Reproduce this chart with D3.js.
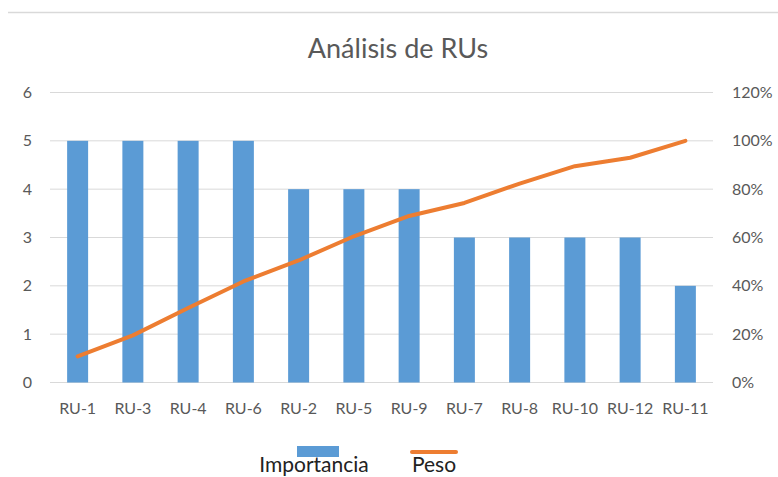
<html lang="es">
<head>
    <meta charset="UTF-8">
    <title>Análisis de RUs</title>
    <style>
        body { margin: 0; background: #ffffff; }
        svg { display: block; font-family: Lato, "Open Sans", sans-serif; }
    </style>
</head>
<body>
<div class="chart"></div>

<script src="https://d3js.org/d3.v7.min.js"></script>
<script>
    const categories = ['RU-1', 'RU-3', 'RU-4', 'RU-6', 'RU-2', 'RU-5', 'RU-9', 'RU-7', 'RU-8', 'RU-10', 'RU-12', 'RU-11']
    const importancia = [5, 5, 5, 5, 4, 4, 4, 3, 3, 3, 3, 2]
    const peso = [10.8, 19.5, 30.8, 41.8, 50.5, 60.5, 68.9, 74.3, 82.3, 89.5, 93, 100]
    const leftTicks = [0, 1, 2, 3, 4, 5, 6]
    const rightTicks = [0, 20, 40, 60, 80, 100, 120]

    const width = 778, height = 477
    const plot = { left: 50, right: 713, top: 92.5, bottom: 382.5 }
    const blue = '#5B9BD5', orange = '#ED7D31', grid = '#d9d9d9', label = '#595959'

    const svg = d3.select('.chart')
        .append('svg')
        .attr('width', width)
        .attr('height', height)

    // top border line
    svg.append('line')
        .attr('x1', 8).attr('x2', width)
        .attr('y1', 12.5).attr('y2', 12.5)
        .attr('stroke', grid)
        .attr('stroke-width', 1.5)

    // title
    svg.append('text')
        .attr('x', 398)
        .attr('y', 58)
        .attr('text-anchor', 'middle')
        .attr('fill', label)
        .style('font-size', '27px')
        .text('Análisis de RUs')

    const xScale = d3.scaleBand()
        .domain(categories)
        .range([plot.left, plot.right])
        .paddingInner(0.62)
        .paddingOuter(0.31)

    const yLeft = d3.scaleLinear().domain([0, 6]).range([plot.bottom, plot.top])
    const yRight = d3.scaleLinear().domain([0, 120]).range([plot.bottom, plot.top])

    // gridlines
    svg.append('g')
        .selectAll('line')
        .data(leftTicks)
        .enter()
        .append('line')
        .attr('x1', plot.left).attr('x2', plot.right)
        .attr('y1', d => yLeft(d)).attr('y2', d => yLeft(d))
        .attr('stroke', grid)
        .attr('stroke-width', 1)

    // left axis
    const leftAxis = svg.append('g')
        .attr('transform', 'translate(' + (plot.left - 18) + ',0)')
        .call(d3.axisLeft(yLeft).tickValues(leftTicks).tickSize(0).tickPadding(0).tickFormat(d3.format('d')))
    leftAxis.select('.domain').remove()
    leftAxis.selectAll('text')
        .attr('fill', label)
        .style('font-size', '16px')
        .style('font-family', 'Lato, sans-serif')

    // right axis
    const rightAxis = svg.append('g')
        .attr('transform', 'translate(' + (plot.right + 19) + ',0)')
        .call(d3.axisRight(yRight).tickValues(rightTicks).tickSize(0).tickPadding(0).tickFormat(d => d + '%'))
    rightAxis.select('.domain').remove()
    rightAxis.selectAll('text')
        .attr('fill', label)
        .style('font-size', '16px')
        .style('font-family', 'Lato, sans-serif')

    // x axis
    const xAxis = svg.append('g')
        .attr('transform', 'translate(0,' + plot.bottom + ')')
        .call(d3.axisBottom(xScale).tickSize(0).tickPadding(20))
    xAxis.select('.domain').remove()
    xAxis.selectAll('text')
        .attr('fill', label)
        .style('font-size', '16px')
        .style('font-family', 'Lato, sans-serif')

    // bars
    svg.selectAll('.bar')
        .data(importancia)
        .enter()
        .append('rect')
        .attr('class', 'bar')
        .attr('x', (d, i) => xScale(categories[i]))
        .attr('y', d => yLeft(d))
        .attr('width', xScale.bandwidth())
        .attr('height', d => yLeft(0) - yLeft(d))
        .attr('fill', blue)

    // cumulative line
    const line = d3.line()
        .x((d, i) => xScale(categories[i]) + xScale.bandwidth() / 2)
        .y(d => yRight(d))
    svg.append('path')
        .datum(peso)
        .attr('d', line)
        .attr('fill', 'none')
        .attr('stroke', orange)
        .attr('stroke-width', 4)
        .attr('stroke-linecap', 'round')
        .attr('stroke-linejoin', 'round')

    // legend
    const legend = svg.append('g')
    legend.append('rect')
        .attr('x', 297).attr('y', 446)
        .attr('width', 42).attr('height', 11)
        .attr('fill', blue)
    legend.append('text')
        .attr('x', 314).attr('y', 472)
        .attr('text-anchor', 'middle')
        .attr('fill', '#222')
        .style('font-size', '21px')
        .text('Importancia')
    legend.append('line')
        .attr('x1', 412).attr('x2', 456)
        .attr('y1', 452).attr('y2', 452)
        .attr('stroke', orange)
        .attr('stroke-width', 4)
        .attr('stroke-linecap', 'round')
    legend.append('text')
        .attr('x', 434).attr('y', 472)
        .attr('text-anchor', 'middle')
        .attr('fill', '#222')
        .style('font-size', '21px')
        .text('Peso')
</script>

</body>
</html>
